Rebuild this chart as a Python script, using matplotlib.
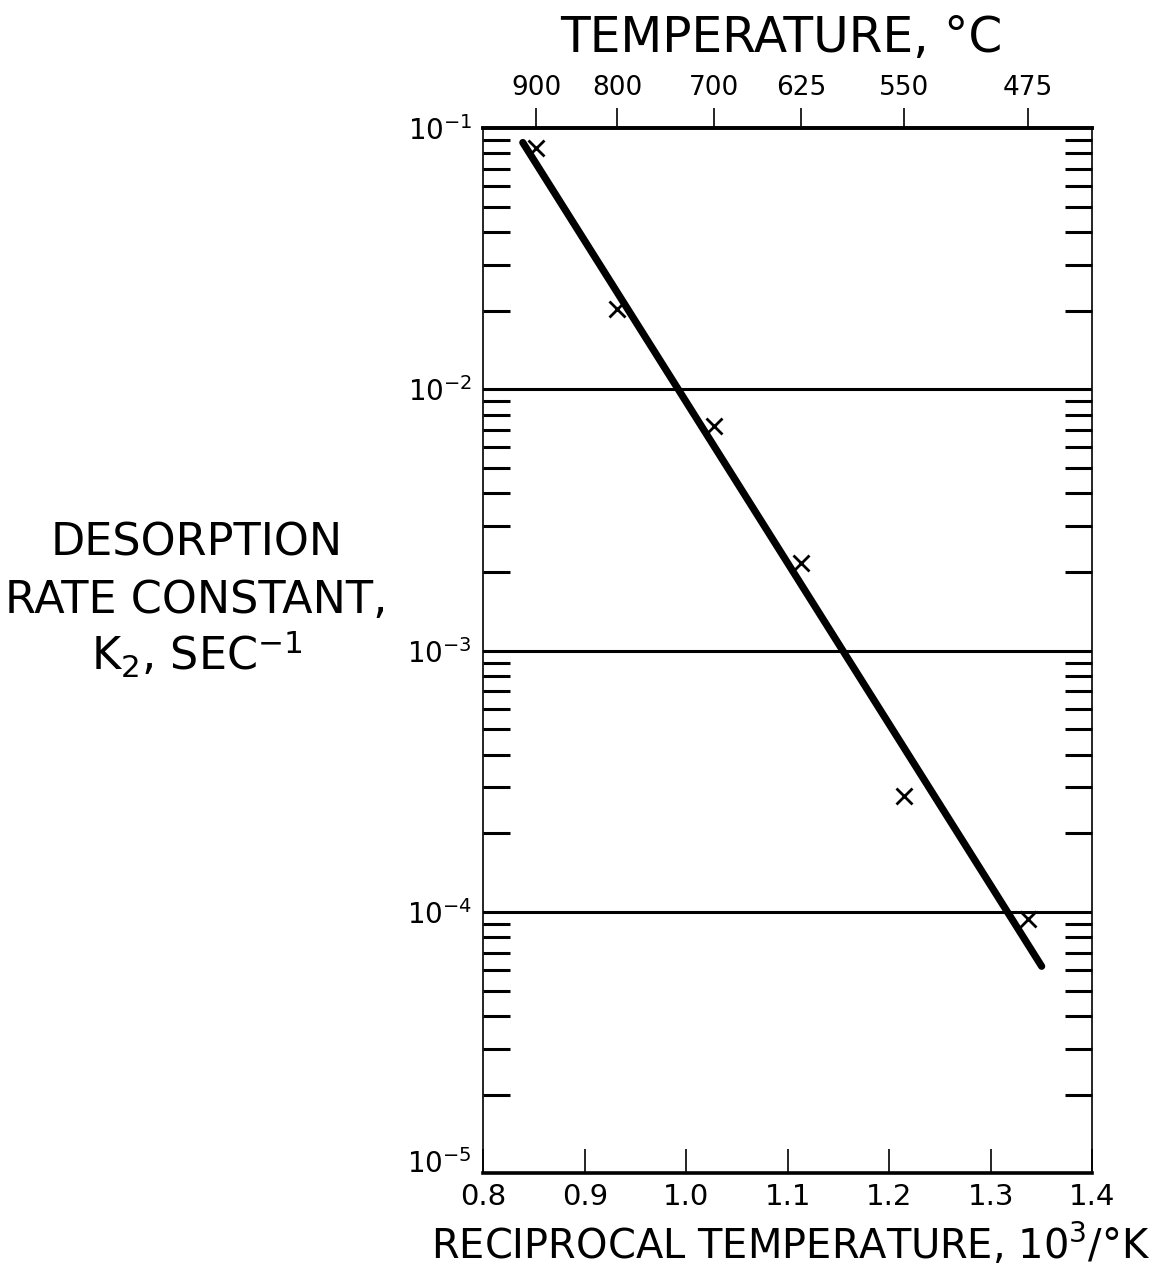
import numpy as np
import matplotlib
matplotlib.use("Agg")
import matplotlib.pyplot as plt
import matplotlib.transforms as mtransforms
from matplotlib.ticker import LogLocator, FixedLocator, NullFormatter

# Measured desorption rate constants
temp_c = [900, 800, 700, 625, 550, 475]                       # deg C
k2 = [0.0838, 0.0203, 0.00721, 0.00217, 0.000278, 0.000094]   # sec^-1

# End points of the fitted Arrhenius line
fit_x = [0.839, 1.350]          # 10^3 / K
fit_k = [0.088, 0.000062]       # sec^-1

x_ticks = [0.8, 0.9, 1.0, 1.1, 1.2, 1.3, 1.4]
x_tick_labels = ["0.8", "0.9", "1.0", "1.1", "1.2", "1.3", "1.4"]
top_ticks_c = [900, 800, 700, 625, 550, 475]
y_decades = [1e-5, 1e-4, 1e-3, 1e-2, 1e-1]
y_decade_labels = [r"$10^{-5}$", r"$10^{-4}$", r"$10^{-3}$", r"$10^{-2}$", r"$10^{-1}$"]

plt.rcParams["font.family"] = ["DejaVu Sans"]
plt.rcParams["mathtext.fontset"] = "dejavusans"


def c_to_recip(t):
    return 1000.0 / (np.asarray(t, dtype=float) + 273.15)


def recip_to_c(x):
    x = np.asarray(x, dtype=float)
    with np.errstate(divide="ignore"):
        return 1000.0 / x - 273.15


fig = plt.figure(figsize=(11.56, 12.74), dpi=100)
ax = fig.add_axes([0.418, 0.079, 0.527, 0.8205])

ax.set_xlim(0.8, 1.4)
ax.set_yscale("log")
ax.set_ylim(1e-5, 1e-1)

# fitted line and data points
ax.plot(fit_x, fit_k, color="black", lw=5.2, solid_capstyle="round", zorder=3)
ax.plot(c_to_recip(temp_c), k2, linestyle="none", marker="x", ms=12,
        mew=2.0, color="black", zorder=4)

# decade grid lines
for d in y_decades[1:-1]:
    ax.axhline(d, color="black", lw=2.2, zorder=2)

# spines
for side in ("top", "bottom"):
    ax.spines[side].set_linewidth(2.6)
for side in ("left", "right"):
    ax.spines[side].set_linewidth(1.2)

# y ticks: decade labels on the left, minor ticks inward on both sides
ax.yaxis.set_major_locator(FixedLocator(y_decades))
ax.set_yticklabels(y_decade_labels)
ax.yaxis.set_minor_locator(LogLocator(base=10, subs=np.arange(2, 10)))
ax.yaxis.set_minor_formatter(NullFormatter())
ax.tick_params(axis="y", which="major", length=0, pad=8, labelsize=20)
ax.tick_params(axis="y", which="minor", direction="in", length=19.5, width=2.2,
               left=True, right=True)

# lift the lowest decade label clear of the x tick labels
lift = mtransforms.ScaledTranslation(0, 9 / 72, fig.dpi_scale_trans)
bottom_label = ax.get_yticklabels()[0]
bottom_label.set_transform(bottom_label.get_transform() + lift)

# x ticks: inward from the bottom spine
ax.xaxis.set_major_locator(FixedLocator(x_ticks))
ax.set_xticklabels(x_tick_labels)
ax.tick_params(axis="x", which="major", direction="in", length=17.5, width=1.2,
               labelsize=21, pad=7, top=False)

# temperature scale along the top
top = ax.secondary_xaxis("top", functions=(recip_to_c, c_to_recip))
top.xaxis.set_major_locator(FixedLocator(top_ticks_c))
top.set_xticklabels([str(t) for t in top_ticks_c])
top.tick_params(direction="out", length=14.5, width=1.2, labelsize=19, pad=5)
top.spines["top"].set_linewidth(2.6)

# axis titles
fig.text(0.676, 0.970, "TEMPERATURE, °C", ha="center", va="center", fontsize=35)
fig.text(0.684, 0.023, "RECIPROCAL TEMPERATURE, 10$^3$/°K",
         ha="center", va="center", fontsize=28.8)

ylabel_lines = ["DESORPTION", "RATE CONSTANT,", "K$_2$, SEC$^{-1}$"]
ylabel_y = [0.574, 0.529, 0.486]
for line, yy in zip(ylabel_lines, ylabel_y):
    fig.text(0.170, yy, line, ha="center", va="center", fontsize=32)

fig.savefig("out.png", dpi=100, facecolor="white")
